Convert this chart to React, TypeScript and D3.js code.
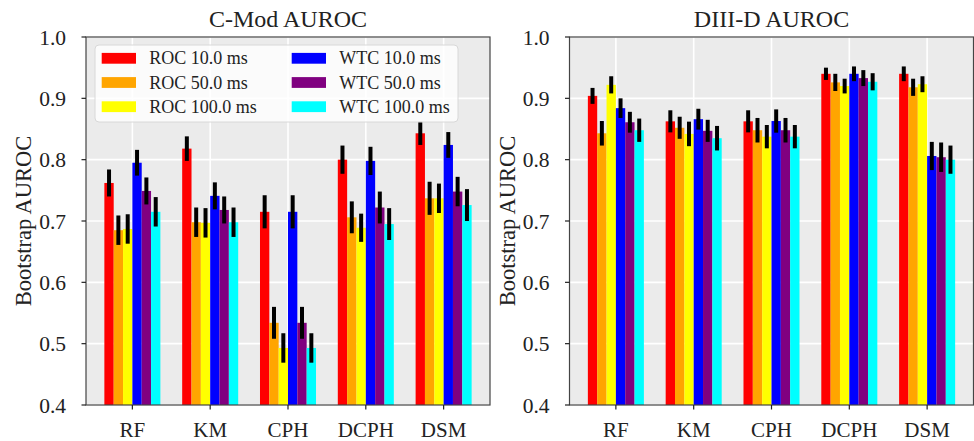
import React from "react";
import * as d3 from "d3";

const categories = ["RF", "KM", "CPH", "DCPH", "DSM"];
const seriesLabels = ["ROC 10.0 ms", "ROC 50.0 ms", "ROC 100.0 ms", "WTC 10.0 ms", "WTC 50.0 ms", "WTC 100.0 ms"];
const seriesColors = ["#ff0000", "#ffa500", "#ffff00", "#0000ff", "#800080", "#00ffff"];
const yTicks = [0.4, 0.5, 0.6, 0.7, 0.8, 0.9, 1.0];

// C-Mod values
const cmodRoc10 = [0.762, 0.818, 0.715, 0.8, 0.843];
const cmodRoc50 = [0.685, 0.698, 0.534, 0.706, 0.737];
const cmodRoc100 = [0.687, 0.697, 0.493, 0.689, 0.737];
const cmodWtc10 = [0.795, 0.741, 0.715, 0.798, 0.824];
const cmodWtc50 = [0.749, 0.718, 0.534, 0.722, 0.748];
const cmodWtc100 = [0.715, 0.698, 0.493, 0.695, 0.726];
const cmodErrRoc10 = [0.022, 0.02, 0.027, 0.023, 0.019];
const cmodErrRoc50 = [0.024, 0.024, 0.026, 0.026, 0.027];
const cmodErrRoc100 = [0.024, 0.024, 0.024, 0.023, 0.024];
const cmodErrWtc10 = [0.021, 0.022, 0.027, 0.023, 0.021];
const cmodErrWtc50 = [0.022, 0.022, 0.026, 0.026, 0.024];
const cmodErrWtc100 = [0.024, 0.024, 0.024, 0.026, 0.026];

// DIII-D values
const d3dRoc10 = [0.904, 0.8625, 0.8625, 0.94, 0.94];
const d3dRoc50 = [0.843, 0.852, 0.848, 0.926, 0.918];
const d3dRoc100 = [0.922, 0.842, 0.8375, 0.92, 0.923];
const d3dWtc10 = [0.884, 0.866, 0.863, 0.94, 0.806];
const d3dWtc50 = [0.861, 0.847, 0.848, 0.933, 0.804];
const d3dWtc100 = [0.848, 0.835, 0.8375, 0.927, 0.8];
const d3dErrRoc10 = [0.013, 0.018, 0.018, 0.01, 0.012];
const d3dErrRoc50 = [0.02, 0.018, 0.02, 0.014, 0.014];
const d3dErrRoc100 = [0.014, 0.02, 0.019, 0.012, 0.013];
const d3dErrWtc10 = [0.016, 0.017, 0.019, 0.012, 0.023];
const d3dErrWtc50 = [0.017, 0.018, 0.02, 0.013, 0.024];
const d3dErrWtc100 = [0.019, 0.02, 0.019, 0.014, 0.023];

const cmodValues = [cmodRoc10, cmodRoc50, cmodRoc100, cmodWtc10, cmodWtc50, cmodWtc100];
const cmodErrors = [cmodErrRoc10, cmodErrRoc50, cmodErrRoc100, cmodErrWtc10, cmodErrWtc50, cmodErrWtc100];
const d3dValues = [d3dRoc10, d3dRoc50, d3dRoc100, d3dWtc10, d3dWtc50, d3dWtc100];
const d3dErrors = [d3dErrRoc10, d3dErrRoc50, d3dErrRoc100, d3dErrWtc10, d3dErrWtc50, d3dErrWtc100];

const FONT = "'Liberation Serif', 'Times New Roman', serif";
const BAR_W = 0.12;
const TOP = 37;
const BOTTOM = 405;

function Panel({ left, right, title, values, errors, legend }: any) {
  const x = d3.scaleLinear().domain([-0.596, 4.596]).range([left, right]);
  const y = d3.scaleLinear().domain([0.4, 1.0]).range([BOTTOM, TOP]);
  const bw = x(BAR_W) - x(0);
  return (
    <g>
      <rect x={left} y={TOP} width={right - left} height={BOTTOM - TOP} fill="#ebebeb" />
      {yTicks.map((t) => (
        <line key={"gy" + t} x1={left} x2={right} y1={y(t)} y2={y(t)} stroke="#fff" strokeWidth={1.6} />
      ))}
      {categories.map((c, i) => (
        <line key={"gx" + c} x1={x(i)} x2={x(i)} y1={TOP} y2={BOTTOM} stroke="#fff" strokeWidth={1.6} />
      ))}
      {values.map((arr: number[], s: number) =>
        arr.map((v, i) => {
          const cx = x(i + (s - 2.5) * BAR_W);
          return (
            <rect key={`b${s}-${i}`} x={cx - bw / 2} y={y(v)} width={bw} height={y(0.4) - y(v)} fill={seriesColors[s]} />
          );
        })
      )}
      {values.map((arr: number[], s: number) =>
        arr.map((v, i) => {
          const cx = x(i + (s - 2.5) * BAR_W);
          const e = errors[s][i];
          return (
            <line key={`e${s}-${i}`} x1={cx} x2={cx} y1={y(v - e)} y2={y(v + e)} stroke="#000" strokeWidth={4} />
          );
        })
      )}
      <rect x={left} y={TOP} width={right - left} height={BOTTOM - TOP} fill="none" stroke="#444" strokeWidth={1.2} />
      {yTicks.map((t) => (
        <g key={"ty" + t}>
          <line x1={left - 4.5} x2={left} y1={y(t)} y2={y(t)} stroke="#222" strokeWidth={1.2} />
          <text x={left - 20} y={y(t) + 7.5} textAnchor="end" fontFamily={FONT} fontSize={21.5} fill="#222">
            {t.toFixed(1)}
          </text>
        </g>
      ))}
      {categories.map((c, i) => (
        <g key={"tx" + c}>
          <line x1={x(i)} x2={x(i)} y1={BOTTOM} y2={BOTTOM + 4.5} stroke="#222" strokeWidth={1.2} />
          <text x={x(i)} y={437} textAnchor="middle" fontFamily={FONT} fontSize={21} fill="#222">
            {c}
          </text>
        </g>
      ))}
      <text
        transform={`translate(${left - 62},${(TOP + BOTTOM) / 2}) rotate(-90)`}
        y={7}
        textAnchor="middle"
        fontFamily={FONT}
        fontSize={22.5}
        fill="#222"
      >
        Bootstrap AUROC
      </text>
      <text x={(left + right) / 2} y={27} textAnchor="middle" fontFamily={FONT} fontSize={24} fill="#222">
        {title}
      </text>
      {legend && (
        <g>
          <rect x={95} y={45} width={363} height={77} rx={4} fill="#fff" fillOpacity={0.8} stroke="#d8d8d8" strokeWidth={1} />
          {seriesLabels.map((lab, s) => {
            const col = Math.floor(s / 3);
            const row = s % 3;
            const px = col === 0 ? 101.7 : 291.7;
            const cy = 58.3 + row * 24.2;
            return (
              <g key={"lg" + s}>
                <rect x={px} y={cy - 5.4} width={34.3} height={10.8} fill={seriesColors[s]} />
                <text x={px + 47.6} y={cy + 6} fontFamily={FONT} fontSize={18} fill="#222">
                  {lab}
                </text>
              </g>
            );
          })}
        </g>
      )}
    </g>
  );
}

export default function App() {
  return (
    <svg
      width={974}
      height={441}
      viewBox="0 0 974 441"
      style={{ position: "absolute", left: 0, top: 0, background: "#fff" }}
    >
      <rect width={974} height={441} fill="#fff" />
      <Panel left={86} right={490} title="C-Mod AUROC" values={cmodValues} errors={cmodErrors} legend={true} />
      <Panel left={569.5} right={973.5} title="DIII-D AUROC" values={d3dValues} errors={d3dErrors} legend={false} />
    </svg>
  );
}
